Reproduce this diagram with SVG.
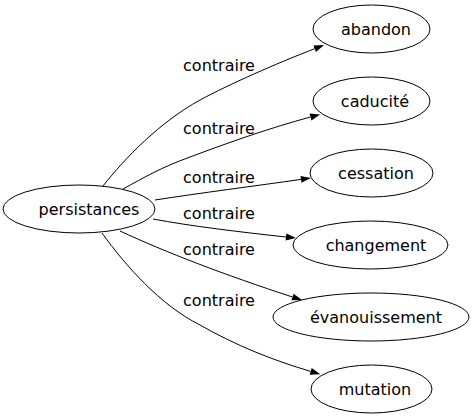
<svg xmlns="http://www.w3.org/2000/svg" width="475" height="419" viewBox="0 0 475 419">
<style>
.node ellipse{fill:#fff;stroke:#000;stroke-width:1}
.node text{font-family:"DejaVu Sans",sans-serif;font-size:16px;fill:#000;text-anchor:middle}
.edge path{fill:none;stroke:#000;stroke-width:1;marker-end:url(#ah)}
.edge text{font-family:"DejaVu Sans",sans-serif;font-size:16px;fill:#000;text-anchor:middle}
</style>
<defs>
<marker id="ah" markerWidth="10" markerHeight="7" refX="0" refY="3.5" orient="auto" markerUnits="userSpaceOnUse" overflow="visible">
<polygon points="0,0 10,3.5 0,7" fill="#000"/>
</marker>
</defs>
<rect width="475" height="419" fill="#fff"/>
<g id="edges">
<g class="edge" id="e1"><path d="M103,186 C125,158 160,122 200,100 C230,84 275,64 314.7,48.7"/><text x="219" y="71">contraire</text></g>
<g class="edge" id="e2"><path d="M123,189 C145,177 160,168 190,157 C230,142 270,128 310.5,117"/><text x="219" y="134">contraire</text></g>
<g class="edge" id="e3"><path d="M155,200 C200,193 255,186 301,179.4"/><text x="219" y="183">contraire</text></g>
<g class="edge" id="e4"><path d="M153,219 C190,226 240,232 286,237"/><text x="219" y="219">contraire</text></g>
<g class="edge" id="e5"><path d="M120,231 C165,252 225,275 292.5,297"/><text x="219" y="255">contraire</text></g>
<g class="edge" id="e6"><path d="M102,233 C125,265 160,305 200,325 C235,345 272,360 310.7,371.4"/><text x="219" y="306">contraire</text></g>
</g>
<g class="node" id="persistances"><ellipse cx="79" cy="209" rx="76" ry="24"/><text x="89" y="214.5">persistances</text></g>
<g class="node" id="abandon"><ellipse cx="371.5" cy="29" rx="58.5" ry="24"/><text x="376" y="34.5">abandon</text></g>
<g class="node" id="caducite"><ellipse cx="371.5" cy="101" rx="58.5" ry="24"/><text x="375" y="106.5">caducité</text></g>
<g class="node" id="cessation"><ellipse cx="371.5" cy="173" rx="61.5" ry="24"/><text x="376" y="178.5">cessation</text></g>
<g class="node" id="changement"><ellipse cx="370.5" cy="245" rx="77.5" ry="24"/><text x="376" y="250.5">changement</text></g>
<g class="node" id="evanouissement"><ellipse cx="371" cy="317" rx="98" ry="24"/><text x="376" y="322.5">évanouissement</text></g>
<g class="node" id="mutation"><ellipse cx="371.5" cy="389" rx="60.5" ry="24"/><text x="375" y="394.5">mutation</text></g>
</svg>
